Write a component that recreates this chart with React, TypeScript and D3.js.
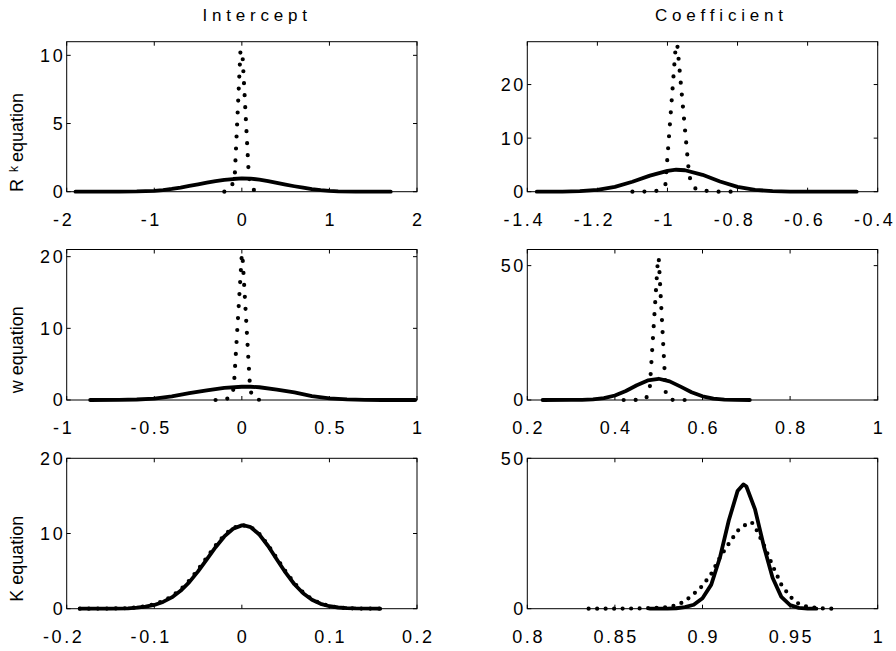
import React from 'react';
import * as d3 from 'd3';

type Pt = [number, number];

// ---- R^k equation ----
const rkInterceptPrior: Pt[] = [
  [-1.9, 0], [-1.6, 0], [-1.4, 0.01], [-1.2, 0.02], [-1.0, 0.06], [-0.9, 0.12], [-0.8, 0.2],
  [-0.7, 0.3], [-0.6, 0.42], [-0.5, 0.54], [-0.4, 0.66], [-0.3, 0.78], [-0.2, 0.87], [-0.1, 0.93],
  [0.0, 0.97], [0.1, 0.96], [0.2, 0.88], [0.3, 0.77], [0.4, 0.64], [0.5, 0.52], [0.6, 0.4],
  [0.7, 0.29], [0.8, 0.19], [0.9, 0.11], [1.0, 0.06], [1.1, 0.03], [1.3, 0.01], [1.5, 0], [1.7, 0],
];
const rkInterceptPosterior: Pt[] = [
  [-0.2, 0], [-0.17, 0.02], [-0.14, 0.15], [-0.11, 0.5], [-0.08, 1.3], [-0.016, 10.3],
  [0.005, 10.35], [0.08, 1.1], [0.1, 0.5], [0.14, 0.1], [0.17, 0], [0.2, 0],
];
const rkCoefPrior: Pt[] = [
  [-1.373, 0], [-1.3, 0.02], [-1.25, 0.1], [-1.2, 0.33], [-1.15, 0.9], [-1.1, 1.85], [-1.05, 3.0],
  [-1.0, 3.9], [-0.975, 4.1], [-0.95, 4.0], [-0.9, 3.15], [-0.85, 1.9], [-0.8, 0.9], [-0.75, 0.35],
  [-0.7, 0.1], [-0.65, 0.02], [-0.6, 0], [-0.46, 0],
];
const rkCoefPosterior: Pt[] = [
  [-1.1, 0], [-1.06, 0.02], [-1.025, 0.2], [-1.006, 1.2], [-0.976, 27.5], [-0.972, 27.5],
  [-0.938, 3.0], [-0.928, 1.0], [-0.912, 0.2], [-0.88, 0.15], [-0.86, 0], [-0.8, 0],
];

// ---- w equation ----
const wInterceptPrior: Pt[] = [
  [-0.866, 0], [-0.7, 0.02], [-0.6, 0.07], [-0.5, 0.2], [-0.4, 0.5], [-0.3, 0.95], [-0.2, 1.35],
  [-0.1, 1.7], [0, 1.85], [0.05, 1.85], [0.1, 1.78], [0.2, 1.45], [0.3, 1.05], [0.4, 0.55],
  [0.5, 0.22], [0.6, 0.08], [0.7, 0.02], [0.8, 0], [0.99, 0],
];
const wInterceptPosterior: Pt[] = [
  [-0.15, 0], [-0.1, 0.02], [-0.055, 0.5], [-0.045, 2.1], [0.0, 20.4], [0.003, 20.4],
  [0.047, 1.6], [0.06, 0.4], [0.085, 0.05], [0.12, 0],
];
const wCoefPrior: Pt[] = [
  [0.235, 0], [0.3, 0.01], [0.325, 0.06], [0.35, 0.22], [0.375, 0.67], [0.4, 1.67], [0.425, 3.35],
  [0.45, 5.48], [0.475, 7.29], [0.5, 7.9], [0.525, 6.94], [0.55, 4.97], [0.575, 2.89], [0.6, 1.37],
  [0.625, 0.53], [0.65, 0.16], [0.675, 0.04], [0.708, 0],
];
const wCoefPosterior: Pt[] = [
  [0.42, 0], [0.455, 0.02], [0.47, 0.4], [0.479, 2.8], [0.4985, 53], [0.5, 53], [0.516, 3.0],
  [0.52, 0.6], [0.53, 0.05], [0.56, 0],
];

// ---- K equation ----
const kInterceptPrior: Pt[] = [
  [-0.185, 0], [-0.15, 0.01], [-0.13, 0.05], [-0.12, 0.13], [-0.11, 0.27], [-0.1, 0.5], [-0.09, 0.9],
  [-0.08, 1.5], [-0.07, 2.38], [-0.06, 3.54], [-0.05, 4.97], [-0.04, 6.57], [-0.03, 8.18],
  [-0.02, 9.61], [-0.01, 10.63], [0.0, 11.08], [0.002, 11.1], [0.01, 10.85], [0.02, 9.86],
  [0.03, 8.34], [0.04, 6.55], [0.05, 4.79], [0.06, 3.25], [0.07, 2.05], [0.08, 1.2], [0.09, 0.65],
  [0.1, 0.33], [0.11, 0.16], [0.12, 0.07], [0.13, 0.03], [0.158, 0],
];
const kInterceptPosterior: Pt[] = [
  [-0.185, 0], [-0.15, 0.02], [-0.13, 0.07], [-0.12, 0.16], [-0.11, 0.32], [-0.1, 0.58], [-0.09, 1.0],
  [-0.08, 1.65], [-0.07, 2.55], [-0.06, 3.75], [-0.05, 5.2], [-0.04, 6.8], [-0.03, 8.4], [-0.02, 9.8],
  [-0.01, 10.75], [0, 11.1], [0.01, 10.9], [0.02, 9.95], [0.03, 8.45], [0.04, 6.7], [0.05, 4.95],
  [0.06, 3.4], [0.07, 2.15], [0.08, 1.27], [0.09, 0.7], [0.1, 0.36], [0.11, 0.17], [0.12, 0.08],
  [0.13, 0.03], [0.158, 0],
];
const kCoefPrior: Pt[] = [
  [0.87, 0], [0.88, 0.02], [0.885, 0.15], [0.89, 0.5], [0.895, 1.3], [0.9, 3.5], [0.905, 8.0],
  [0.91, 17.1], [0.915, 29.3], [0.92, 39.1], [0.9233, 41.3], [0.925, 40.7], [0.93, 33.0],
  [0.935, 20.8], [0.94, 10.3], [0.945, 3.93], [0.95, 1.17], [0.955, 0.27], [0.96, 0.05], [0.965, 0],
];
const kCoefPosterior: Pt[] = [
  [0.835, 0], [0.845, 0], [0.855, 0.05], [0.865, 0.1], [0.875, 0.3], [0.88, 0.5], [0.885, 1.1],
  [0.89, 2.5], [0.895, 4.9], [0.9, 7.6], [0.905, 11.6], [0.91, 17.1], [0.915, 21.6], [0.92, 25.9],
  [0.925, 28.1], [0.928, 28.8], [0.93, 27.2], [0.935, 21.2], [0.94, 14.3], [0.945, 8.0], [0.95, 4.0],
  [0.955, 1.6], [0.96, 0.6], [0.965, 0.25], [0.97, 0.05], [0.974, 0],
];

// ---- axis ticks ----
const rkInterceptXTicks = [-2, -1, 0, 1, 2];
const rkCoefXTicks = [-1.4, -1.2, -1, -0.8, -0.6, -0.4];
const wInterceptXTicks = [-1, -0.5, 0, 0.5, 1];
const wCoefXTicks = [0.2, 0.4, 0.6, 0.8, 1];
const kInterceptXTicks = [-0.2, -0.1, 0, 0.1, 0.2];
const kCoefXTicks = [0.8, 0.85, 0.9, 0.95, 1];

const rkInterceptYTicks = [0, 5, 10];
const rkCoefYTicks = [0, 10, 20];
const wInterceptYTicks = [0, 10, 20];
const wCoefYTicks = [0, 50];
const kInterceptYTicks = [0, 10, 20];
const kCoefYTicks = [0, 50];

const columnTitles = ['Intercept', 'Coefficient'];
const rowLabels = ['R', 'w equation', 'K equation'];

type PanelSpec = {
  row: number;
  col: number;
  xDomain: [number, number];
  yMax: number;
  xTicks: number[];
  yTicks: number[];
  prior: Pt[];
  posterior: Pt[];
  dotGap: number;
};

const panels: PanelSpec[] = [
  { row: 0, col: 0, xDomain: [-2, 2], yMax: 11, xTicks: rkInterceptXTicks, yTicks: rkInterceptYTicks, prior: rkInterceptPrior, posterior: rkInterceptPosterior, dotGap: 12 },
  { row: 0, col: 1, xDomain: [-1.4, -0.4], yMax: 28, xTicks: rkCoefXTicks, yTicks: rkCoefYTicks, prior: rkCoefPrior, posterior: rkCoefPosterior, dotGap: 12 },
  { row: 1, col: 0, xDomain: [-1, 1], yMax: 21, xTicks: wInterceptXTicks, yTicks: wInterceptYTicks, prior: wInterceptPrior, posterior: wInterceptPosterior, dotGap: 12 },
  { row: 1, col: 1, xDomain: [0.2, 1], yMax: 56, xTicks: wCoefXTicks, yTicks: wCoefYTicks, prior: wCoefPrior, posterior: wCoefPosterior, dotGap: 12 },
  { row: 2, col: 0, xDomain: [-0.2, 0.2], yMax: 20, xTicks: kInterceptXTicks, yTicks: kInterceptYTicks, prior: kInterceptPrior, posterior: kInterceptPosterior, dotGap: 9 },
  { row: 2, col: 1, xDomain: [0.8, 1], yMax: 50, xTicks: kCoefXTicks, yTicks: kCoefYTicks, prior: kCoefPrior, posterior: kCoefPosterior, dotGap: 8.5 },
];

// Layout of the 3x2 grid of axes
const COLS: [number, number][] = [[66.7, 417], [527.3, 877.7]];
const ROWS: [number, number][] = [[41.7, 191.7], [249.5, 400], [458.3, 608.7]];
const FONT = '"Liberation Sans", Arial, Helvetica, sans-serif';
const TICK_FS = 18;
const TICK_LS = 2.6;
const TICK_LEN = 4;
// negative labels hang their minus sign to the left of the tick
const MINUS_SHIFT = (TICK_FS * 0.333 + TICK_LS) / 2;

function Panel({ spec }: { spec: PanelSpec }) {
  const [left, right] = COLS[spec.col];
  const [top, bottom] = ROWS[spec.row];
  const x = d3.scaleLinear().domain(spec.xDomain).range([left, right]);
  const y = d3.scaleLinear().domain([0, spec.yMax]).range([bottom, top]);
  const line = d3.line<Pt>().x((d) => x(d[0])).y((d) => y(d[1]));

  return (
    <g>
      <path d={line(spec.prior) ?? ''} fill="none" stroke="#000" strokeWidth={3.8} strokeLinejoin="round" strokeLinecap="round" />
      <path
        d={line(spec.posterior) ?? ''}
        fill="none"
        stroke="#000"
        strokeWidth={4.2}
        strokeLinecap="round"
        strokeDasharray={`0 ${spec.dotGap}`}
      />
      <rect x={left} y={top} width={right - left} height={bottom - top} fill="none" stroke="#000" strokeWidth={1} />
      {spec.xTicks.map((t) => (
        <g key={`x${t}`}>
          <line x1={x(t)} x2={x(t)} y1={bottom} y2={bottom - TICK_LEN} stroke="#000" strokeWidth={1} />
          <line x1={x(t)} x2={x(t)} y1={top} y2={top + TICK_LEN} stroke="#000" strokeWidth={1} />
          <text
            x={x(t) + TICK_LS / 2 - (t < 0 ? MINUS_SHIFT : 0)}
            y={bottom + 34}
            textAnchor="middle"
            fontSize={TICK_FS}
            letterSpacing={TICK_LS}
            fontFamily={FONT}
          >
            {String(t)}
          </text>
        </g>
      ))}
      {spec.yTicks.map((t) => (
        <g key={`y${t}`}>
          <line x1={left} x2={left + TICK_LEN} y1={y(t)} y2={y(t)} stroke="#000" strokeWidth={1} />
          <line x1={right} x2={right - TICK_LEN} y1={y(t)} y2={y(t)} stroke="#000" strokeWidth={1} />
          <text
            x={left - 4 + TICK_LS}
            y={y(t)}
            dy="0.36em"
            textAnchor="end"
            fontSize={TICK_FS}
            letterSpacing={TICK_LS}
            fontFamily={FONT}
          >
            {String(t)}
          </text>
        </g>
      ))}
    </g>
  );
}

export default function App() {
  const titleX = [254.7, 719];
  const labelStart = [192, 393.3, 601.7];
  return (
    <svg
      width={896}
      height={651}
      viewBox="0 0 896 651"
      style={{ position: 'absolute', left: 0, top: 0, background: '#fff' }}
    >
      <rect x={0} y={0} width={896} height={651} fill="#fff" />
      {columnTitles.map((t, i) => (
        <text
          key={t}
          x={titleX[i] + 2.4}
          y={21}
          textAnchor="middle"
          fontSize={17}
          letterSpacing={4.8}
          fontFamily={FONT}
        >
          {t}
        </text>
      ))}
      {rowLabels.map((t, i) => (
        <text
          key={t}
          transform={`translate(23.3,${labelStart[i]}) rotate(-90)`}
          textAnchor="start"
          fontSize={18}
          fontFamily={FONT}
        >
          {i === 0 ? (
            <>
              {t}
              <tspan dx={7} dy={-5} fontSize={12}>k</tspan>
              <tspan dx={4} dy={5}>equation</tspan>
            </>
          ) : (
            t
          )}
        </text>
      ))}
      {panels.map((p) => (
        <Panel key={`${p.row}-${p.col}`} spec={p} />
      ))}
    </svg>
  );
}
